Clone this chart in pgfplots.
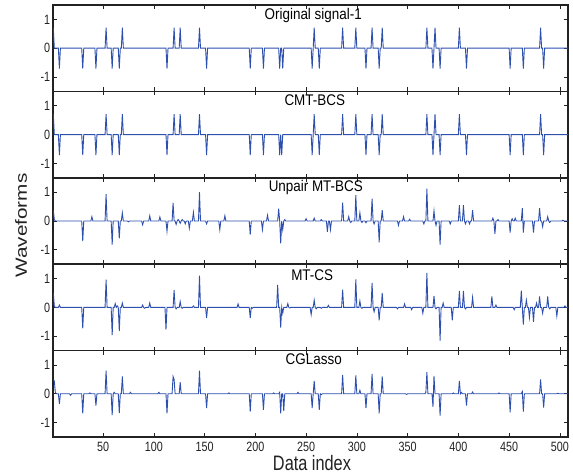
\documentclass[border=0pt]{standalone}
\usepackage{fontspec}
\setmainfont{Liberation Sans}
\usepackage{graphicx}
\usepackage{pgfplots}
\pgfplotsset{compat=1.18}
\definecolor{sigblue}{HTML}{2D4FAE}
\definecolor{framegray}{HTML}{222222}
% text in the reference is narrowed horizontally
\newcommand{\sx}[1]{\scalebox{0.8}[1]{#1}}
\newcommand{\tx}[1]{\scalebox{0.87}[1]{\fontsize{15.5}{16}\selectfont #1}}

\pgfplotsset{
  panel/.style={
    scale only axis, width=514.7bp, height=86.4bp,
    xmin=1, xmax=508, ymin=-1.5, ymax=1.5,
    xtick={50,100,...,500}, ytick={-1,0,1},
    yticklabels={\sx{-1},\sx{0},\sx{1}},
    xticklabels={},
    tick align=inside, tick pos=both,
    major tick length=4bp,
    tick style={framegray, line width=0.6bp},
    axis line style={framegray, line width=1.6bp},
    ticklabel style={font=\fontsize{13.5}{14}\selectfont, text=framegray, inner sep=0pt},
    yticklabel style={xshift=-3bp},
    xticklabel style={yshift=-4.7bp},
    anchor=south west,
  },
  sig/.style={sigblue, line width=0.9bp, mark=none},
}

\begin{document}
\begin{tikzpicture}
\path[use as bounding box] (0,0) rectangle (573bp,474bp);

% Original signal-1
\begin{axis}[panel, at={(53.3bp,382.6bp)}]
\addplot[sig] coordinates {(1,0.71)(2,0)(6,0)(7,-0.71)(8,0)(29,0)(30,-0.71)(31,0)(42,0)(43,-0.71)(44,0)(52,0)(53,0.71)(54,0)(58,0)(59,-0.71)(60,0)(65,0)(66,-0.71)(67,0)(68,0)(69,0.71)(70,0)(112,0)(113,-0.71)(114,0)(119,0)(120,0.71)(121,0)(125,0)(126,0.71)(127,0)(144,0)(145,0.71)(146,0)(151,0)(152,-0.71)(153,0)(194,0)(195,-0.71)(196,0)(207,0)(208,-0.71)(209,0)(223,0)(224,-0.71)(225,0)(226,0)(227,-0.71)(228,0)(255,0)(256,-0.71)(257,0)(258,0.71)(259,0)(262,0)(263,-0.71)(264,0)(285,0)(286,0.71)(287,0)(298,0)(299,0.71)(300,0)(308,0)(309,-0.71)(310,0)(314,0)(315,0.71)(316,0)(321,0)(322,-0.71)(323,0)(324,0)(325,0.71)(326,0)(368,0)(369,0.71)(370,0)(374,0)(375,-0.71)(376,0)(377,0.71)(378,0)(381,0)(382,-0.71)(383,0)(400,0)(401,0.71)(402,0)(407,0)(408,-0.71)(409,0)(450,0)(451,-0.71)(452,0)(463,0)(464,-0.71)(465,0)(480,0)(481,0.71)(482,0)(483,0)(484,-0.71)(485,0)(508,0)};
\node[anchor=mid] at (rel axis cs:0.505,0.861) {\tx{Original signal-1}};
\end{axis}

% CMT-BCS
\begin{axis}[panel, at={(53.3bp,296.2bp)}]
\addplot[sig] coordinates {(1,0.71)(2,0)(6,0)(7,-0.71)(8,0)(29,0)(30,-0.71)(31,0)(42,0)(43,-0.71)(44,0)(52,0)(53,0.71)(54,0)(58,0)(59,-0.71)(60,0)(65,0)(66,-0.71)(67,0)(68,0)(69,0.71)(70,0)(112,0)(113,-0.71)(114,0)(119,0)(120,0.71)(121,0)(125,0)(126,0.71)(127,0)(144,0)(145,0.71)(146,0)(151,0)(152,-0.71)(153,0)(194,0)(195,-0.71)(196,0)(207,0)(208,-0.71)(209,0)(223,0)(224,-0.71)(225,0)(226,-0.71)(227,0)(255,0)(256,-0.71)(257,0)(258,0.71)(259,0)(262,0)(263,-0.71)(264,0)(285,0)(286,0.71)(287,0)(298,0)(299,0.71)(300,0)(308,0)(309,-0.71)(310,0)(314,0)(315,0.71)(316,0)(321,0)(322,-0.71)(323,0)(324,0)(325,0.71)(326,0)(368,0)(369,0.71)(370,0)(374,0)(375,-0.71)(376,0)(377,0.71)(378,0)(381,0)(382,-0.71)(383,0)(400,0)(401,0.71)(402,0)(407,0)(408,-0.71)(409,0)(450,0)(451,-0.71)(452,0)(463,0)(464,-0.71)(465,0)(480,0)(481,0.71)(482,0)(483,0)(484,-0.71)(485,0)(508,0)};
\node[anchor=mid] at (rel axis cs:0.508,0.869) {\tx{CMT-BCS}};
\end{axis}

% Unpair MT-BCS
\begin{axis}[panel, at={(53.3bp,209.8bp)}]
\addplot[sig] coordinates {(1,0.37)(2,0.05)(3,0)(29,0)(30,-0.7)(31,0)(38,0)(39,0.15)(40,0)(52,0)(53,0.93)(54,0)(58,0)(59,-0.82)(60,0)(65,0)(66,-0.6)(67,0)(68,0)(69,0.28)(70,0)(74,0)(75,-0.03)(76,0)(88,0)(89,-0.13)(90,0)(95,0)(96,0.18)(97,0)(105,0)(106,0.14)(107,0)(112,0)(113,-0.35)(114,0)(118,0)(119,0.63)(120,0)(121,0)(122,-0.12)(123,0)(124,0.05)(125,0)(126,-0.08)(127,0)(128,0.05)(129,0)(130,0)(131,-0.1)(132,0)(134,0)(135,-0.25)(136,0)(138,0)(139,0.3)(140,0)(144,0)(145,1.0)(146,0)(151,0)(152,-0.1)(153,0)(164,0)(165,-0.3)(166,0)(169,0)(170,0.18)(171,0)(194,0)(195,-0.47)(196,0)(206,0)(207,-0.3)(208,0)(211,0)(212,0.2)(213,0)(222,0)(223,0.43)(224,0)(225,-0.78)(226,0)(227,-0.3)(228,0)(229,0.05)(230,0)(249,0)(250,0.08)(251,0)(257,0)(258,0.1)(259,0)(264,0)(265,0.05)(266,0)(270,0)(271,-0.38)(272,0)(273,0)(274,-0.3)(275,0)(285,0)(286,0.64)(287,0)(291,0)(292,0.15)(293,0)(294,-0.05)(295,0)(298,0)(299,0.9)(300,0)(302,0)(303,0.28)(304,0)(305,-0.05)(306,0)(308,0)(309,-0.06)(310,0)(314,0)(315,0.78)(316,0)(317,-0.1)(318,0)(321,0)(322,-0.74)(323,0)(324,0)(325,0.38)(326,0)(340,0)(341,-0.15)(342,0)(345,0)(346,0.15)(347,0)(351,0)(352,0.06)(353,0)(365,0)(366,-0.1)(367,0)(368,0)(369,1.12)(370,0)(375,0)(376,0.35)(377,0)(378,-0.15)(379,0)(381,0)(382,-0.82)(383,0)(391,0)(392,-0.1)(393,0)(400,0)(401,0.55)(402,0)(404,0)(405,0.55)(406,0)(407,-0.1)(408,0)(410,0)(411,-0.1)(412,0)(413,0)(414,0.38)(415,0)(433,0)(434,0.1)(435,0)(436,-0.45)(437,0)(438,0)(439,0.05)(440,0)(450,0)(451,-0.4)(452,0)(453,0.08)(454,0)(455,0)(456,0.1)(457,0)(462,0)(463,0.45)(464,-0.4)(465,0)(473,0)(474,-0.4)(475,0)(479,0)(480,0.45)(481,0)(482,0)(483,-0.2)(484,0)(487,0)(488,0.15)(489,0)(490,-0.05)(491,0)(502,0)(503,0.03)(504,0)(508,0)};
\node[anchor=mid] at (rel axis cs:0.51,0.867) {\tx{Unpair MT-BCS}};
\end{axis}

% MT-CS
\begin{axis}[panel, at={(53.3bp,123.4bp)}]
\addplot[sig] coordinates {(1,0.5)(2,0.05)(3,0)(6,0)(7,0.08)(8,0)(29,0)(30,-0.73)(31,0)(52,0)(53,0.96)(54,0)(58,0)(59,-0.96)(60,0)(61,0)(62,0.13)(63,0)(64,0.05)(65,0)(66,-0.82)(67,0)(68,0)(69,0.15)(70,0)(88,0)(89,0.08)(90,0)(91,-0.03)(92,0)(95,0)(96,0.15)(97,0)(111,0)(112,-0.77)(113,0)(119,0)(120,0.6)(121,0)(122,-0.05)(123,0)(125,0)(126,0.2)(127,0)(128,-0.03)(129,0)(138,0)(139,0.05)(140,0)(144,0)(145,1.1)(146,0)(151,0)(152,-0.37)(153,0)(182,0)(183,0.12)(184,0)(194,0)(195,-0.37)(196,0)(197,-0.03)(198,0)(221,0)(222,0.78)(223,0)(224,0)(225,-0.7)(226,0)(227,-0.2)(228,0)(231,0)(232,0.13)(233,0)(234,-0.02)(235,0)(254,0)(255,-0.25)(256,0)(257,0)(258,0.25)(259,0)(260,-0.05)(261,0)(264,0)(265,-0.03)(266,0)(271,0)(272,0.07)(273,0)(285,0)(286,0.62)(287,0)(298,0)(299,0.97)(300,0)(302,0)(303,0.22)(304,0)(305,-0.03)(306,0)(314,0)(315,0.85)(316,0)(317,-0.15)(318,0)(321,0)(322,-0.45)(323,0)(324,0)(325,0.5)(326,0)(339,0)(340,-0.05)(341,0)(346,0)(347,0.12)(348,0)(353,0)(354,-0.08)(355,0)(364,0)(365,-0.2)(366,0)(368,0)(369,1.2)(370,0)(375,0)(376,0.4)(377,0)(378,-0.05)(379,0)(381,0)(382,-1.15)(383,0)(384,0)(385,0.15)(386,0)(393,0)(394,-0.45)(395,0)(400,0)(401,0.57)(402,0)(404,0)(405,0.57)(406,0)(407,-0.05)(408,0)(413,0)(414,0.35)(415,0)(432,0)(433,0.38)(434,0)(436,0)(437,0.08)(438,0)(454,0)(455,-0.08)(456,0)(461,0)(462,0.58)(463,0)(464,-0.6)(465,0)(466,0)(467,0.25)(468,0)(469,0)(470,-0.35)(471,0)(473,0)(474,-0.5)(475,0)(476,0)(477,0.15)(478,0)(479,0)(480,0.38)(481,0)(482,0)(483,-0.2)(484,0)(487,0)(488,0.38)(489,0)(490,-0.05)(491,0)(496,0)(497,-0.3)(498,0)(504,0)(505,0.05)(506,0)(508,0)};
\node[anchor=mid] at (rel axis cs:0.503,0.837) {\tx{MT-CS}};
\end{axis}

% CGLasso
\begin{axis}[panel, at={(53.3bp,37bp)},
  xticklabels={\sx{50},\sx{100},\sx{150},\sx{200},\sx{250},\sx{300},\sx{350},\sx{400},\sx{450},\sx{500}}]
\addplot[sig] coordinates {(1,0.46)(2,0.45)(3,0.05)(4,0)(6,0)(7,-0.36)(8,0)(17,0)(18,-0.05)(19,0)(29,0)(30,-0.68)(31,0)(36,0)(37,0.03)(38,0)(42,0)(43,-0.41)(44,0)(52,0)(53,0.8)(54,0)(58,0)(59,-0.74)(60,0)(61,0.05)(62,0)(65,0)(66,-0.67)(67,0)(68,0)(69,0.6)(70,0)(76,0)(77,0.05)(78,0)(104,0)(105,0.05)(106,0)(112,0)(113,-0.68)(114,0)(118,0)(119,0.6)(120,0.5)(121,0)(125,0)(126,0.4)(127,0)(144,0)(145,0.8)(146,0)(151,0)(152,-0.5)(153,0)(173,0)(174,0.03)(175,0)(194,0)(195,-0.62)(196,0)(207,0)(208,-0.56)(209,0)(217,0)(218,0.03)(219,0)(223,0)(224,0.05)(225,-0.68)(226,0)(227,0)(228,-0.6)(229,0)(241,0)(242,0.05)(243,0)(255,0)(256,-0.5)(257,0)(258,0.45)(259,0)(262,0)(263,-0.56)(264,0)(265,-0.03)(266,0)(285,0)(286,0.66)(287,0)(298,0)(299,0.64)(300,0)(302,0)(303,0.12)(304,0)(308,0)(309,-0.5)(310,0)(314,0)(315,0.69)(316,0)(321,0)(322,-0.68)(323,0)(324,0)(325,0.6)(326,0)(348,0)(349,-0.02)(350,0)(367,0)(368,0.05)(369,0.75)(370,0)(374,0)(375,-0.45)(376,0.62)(377,0)(381,0)(382,-0.76)(383,0)(394,0)(395,0.03)(396,0)(400,0)(401,0.45)(402,0)(403,0.05)(404,0)(407,0)(408,-0.41)(409,0)(413,0)(414,0.06)(415,0)(439,0)(440,0.03)(441,0)(450,0)(451,-0.64)(452,0)(462,0)(463,0.08)(464,-0.62)(465,0)(480,0)(481,0.5)(482,0)(483,0)(484,-0.48)(485,0)(497,0)(498,0.02)(499,0)(508,0)};
\node[anchor=mid] at (rel axis cs:0.506,0.871) {\tx{CGLasso}};
\end{axis}

% shared axis labels
\node[anchor=base, text=framegray] at (312bp,3.3bp) {\scalebox{0.78}[1]{\fontsize{21}{22}\selectfont Data index}};
\node[rotate=90, anchor=center, text=framegray] at (21bp,248.5bp) {\scalebox{1}[0.78]{\fontsize{20.8}{21}\selectfont Waveforms}};
\end{tikzpicture}
\end{document}
